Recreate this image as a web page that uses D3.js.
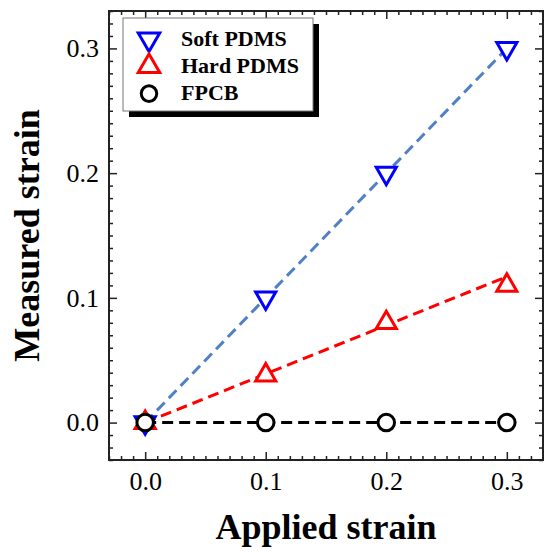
<!DOCTYPE html>
<html>
<head>
<meta charset="utf-8">
<script src="https://cdn.jsdelivr.net/npm/d3@7"></script>
<style>
  body { margin: 0; background: #fff; }
  svg { display: block; }
  text { font-family: "Times New Roman", "Liberation Serif", serif; fill: #000; }
</style>
</head>
<body>
<div class="canvas"></div>
<script>
// Data
const appliedStrain = [0, 0.1, 0.2, 0.3]
const softPDMS = [0, 0.1, 0.2, 0.3]
const hardPDMS = [0, 0.038, 0.08, 0.11]
const fpcb = [0, 0, 0, 0]

// Dashed guide lines (end points)
const fitX = [0, 0.3]
const softFit = [0, 0.3]
const hardFit = [0, 0.117]
const fpcbFit = [0, 0]

const xTicks = [0, 0.1, 0.2, 0.3]
const yTicks = [0, 0.1, 0.2, 0.3]
const legendLabels = ['Soft PDMS', 'Hard PDMS', 'FPCB']

// Dimensions
const width = 544
const height = 554
const margin = {top: 11, right: 1, bottom: 94, left: 109}
const graphWidth = width - margin.left - margin.right
const graphHeight = height - margin.top - margin.bottom

const svg = d3.select('.canvas')
  .append('svg')
    .attr('width', width)
    .attr('height', height)

const graph = svg.append('g')
  .attr('transform', `translate(${margin.left},${margin.top})`)

// Scales
const x = d3.scaleLinear().domain([-0.03, 0.33]).range([0, graphWidth])
const y = d3.scaleLinear().domain([-0.03, 0.33]).range([graphHeight, 0])

// minor ticks every 0.01
const minor = d3.range(-3, 34).map(i => i / 100)
  .filter(v => !xTicks.some(t => Math.abs(t - v) < 1e-9))

const fmt = d3.format('.1f')

// Axes on all four sides, ticks pointing in
const addAxis = (axisFn, scale, transform, ticks, labels) => {
  const gMinor = graph.append('g').attr('transform', transform)
    .call(axisFn(scale).tickValues(minor).tickSizeInner(-4).tickSizeOuter(0).tickFormat(''))
  const gMajor = graph.append('g').attr('transform', transform)
    .call(axisFn(scale).tickValues(ticks).tickSizeInner(-8).tickSizeOuter(0)
      .tickPadding(axisFn === d3.axisBottom ? 11.5 : 10)
      .tickFormat(labels ? fmt : ''))
  ;[gMinor, gMajor].forEach(g => {
    g.select('.domain').remove()
    g.selectAll('line').attr('stroke', '#222').attr('stroke-width', 1.5)
  })
  gMajor.selectAll('text')
    .attr('font-size', 26)
    .style('font-family', '"Times New Roman", "Liberation Serif", serif')
}

addAxis(d3.axisBottom, x, `translate(0,${graphHeight})`, xTicks, true)
addAxis(d3.axisTop, x, 'translate(0,0)', xTicks, false)
addAxis(d3.axisLeft, y, 'translate(0,0)', yTicks, true)
addAxis(d3.axisRight, y, `translate(${graphWidth},0)`, yTicks, false)

// Frame
graph.append('rect')
  .attr('width', graphWidth)
  .attr('height', graphHeight)
  .attr('fill', 'none')
  .attr('stroke', '#222')
  .attr('stroke-width', 2)

// Dashed lines
const line = d3.line().x(d => x(d[0])).y(d => y(d[1]))
const lines = [
  {vals: fpcbFit, color: '#000'},
  {vals: softFit, color: '#4f81c4'},
  {vals: hardFit, color: '#ff0000'}
]
lines.forEach(l => {
  graph.append('path')
    .attr('d', line(fitX.map((v, i) => [v, l.vals[i]])))
    .attr('fill', 'none')
    .attr('stroke', l.color)
    .attr('stroke-width', 3)
    .attr('stroke-dasharray', '11,6')
})

// Markers
const tri = d3.symbol().type(d3.symbolTriangle).size(175)
const circle = d3.symbol().type(d3.symbolCircle).size(215)

const series = [
  {vals: softPDMS, color: '#0000ff', shape: tri, rot: 180},
  {vals: hardPDMS, color: '#ff0000', shape: tri, rot: 0},
  {vals: fpcb, color: '#000', shape: circle, rot: 0}
]

series.forEach(s => {
  graph.selectAll(null)
    .data(appliedStrain.map((v, i) => [v, s.vals[i]]))
    .enter()
    .append('path')
      .attr('d', s.shape())
      .attr('transform', d => `translate(${x(d[0])},${y(d[1])}) rotate(${s.rot})`)
      .attr('fill', '#fff')
      .attr('stroke', s.color)
      .attr('stroke-width', 3)
})

// Legend
const legend = svg.append('g').attr('transform', 'translate(123,18)')
legend.append('rect')
  .attr('x', 6).attr('y', 6)
  .attr('width', 190).attr('height', 93)
  .attr('fill', '#000')
legend.append('rect')
  .attr('width', 190).attr('height', 93)
  .attr('fill', '#fff')
  .attr('stroke', '#777')
  .attr('stroke-width', 1)

const legendShapes = [
  d3.symbol().type(d3.symbolTriangle).size(200),
  d3.symbol().type(d3.symbolTriangle).size(200),
  d3.symbol().type(d3.symbolCircle).size(190)
]

legendLabels.forEach((label, i) => {
  const base = 27.7 + i * 27.2
  legend.append('path')
    .attr('d', legendShapes[i]())
    .attr('transform', `translate(26,${base - 6.5}) rotate(${series[i].rot})`)
    .attr('fill', '#fff')
    .attr('stroke', series[i].color)
    .attr('stroke-width', 3)
  legend.append('text')
    .attr('x', 58)
    .attr('y', base)
    .attr('font-size', 22)
    .attr('font-weight', 'bold')
    .text(label)
})

// Axis titles
svg.append('text')
  .attr('x', margin.left + x(0.15))
  .attr('y', 539)
  .attr('text-anchor', 'middle')
  .attr('font-size', 36)
  .attr('font-weight', 'bold')
  .text('Applied strain')

svg.append('text')
  .attr('transform', `translate(39,${margin.top + y(0.15)}) rotate(-90)`)
  .attr('text-anchor', 'middle')
  .attr('font-size', 36)
  .attr('font-weight', 'bold')
  .text('Measured strain')
</script>
</body>
</html>
